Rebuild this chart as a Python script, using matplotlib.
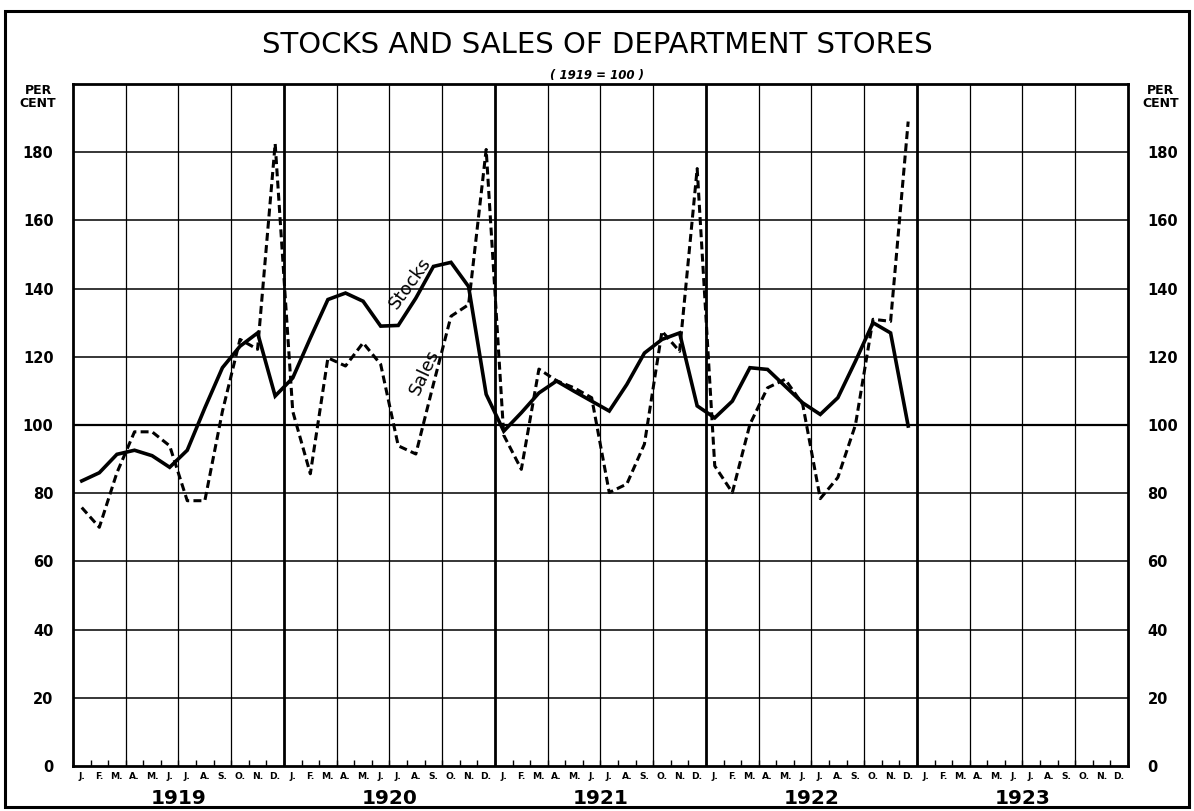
import numpy as np
import matplotlib.pyplot as plt
from matplotlib.patches import Rectangle
from matplotlib.transforms import blended_transform_factory


YEARS = ["1919", "1920", "1921", "1922", "1923"]
MONTH_LABELS = ["J.", "F.", "M.", "A.", "M.", "J.", "J.", "A.", "S.", "O.", "N.", "D."]

# monthly index numbers, Jan 1919 - Dec 1922 (1919 = 100)
stocks = [
    83.6, 86.0, 91.4, 92.6, 91.0, 87.6, 92.6, 105.0, 116.8, 123.1, 127.0, 108.5,
    113.8, 125.5, 136.8, 138.7, 136.3, 129.0, 129.2, 137.2, 146.5, 147.7, 140.6, 109.0,
    98.2, 103.6, 109.4, 112.9, 109.9, 107.0, 104.1, 111.9, 121.1, 125.1, 127.0, 105.6,
    102.1, 107.0, 116.8, 116.3, 111.4, 106.5, 103.1, 108.0, 118.7, 130.0, 127.0, 99.7,
]
sales = [
    75.8, 70.0, 86.0, 98.0, 98.0, 93.9, 77.8, 77.8, 104.0, 125.1, 122.2, 182.5,
    104.0, 85.7, 119.7, 117.3, 124.1, 117.8, 93.9, 91.5, 112.0, 131.9, 135.3, 180.8,
    97.0, 87.0, 116.4, 113.0, 110.9, 108.0, 80.2, 82.7, 94.4, 127.5, 121.6, 175.2,
    88.0, 80.2, 100.2, 110.9, 113.4, 106.1, 78.4, 84.6, 100.0, 131.0, 130.4, 189.0,
]
y_ticks = [0, 20, 40, 60, 80, 100, 120, 140, 160, 180]

n_months = 12 * len(YEARS)
x_months = np.arange(len(stocks)) + 0.5

fig = plt.figure(figsize=(11.94, 8.11), dpi=100)
fig.patch.set_facecolor("white")
ax = fig.add_axes([0.0611, 0.0555, 0.8836, 0.8409])

# outer frame around the whole sheet
fig.patches.append(Rectangle((0.004, 0.005), 0.992, 0.982, transform=fig.transFigure,
                             fill=False, edgecolor="black", linewidth=2.2))

ax.set_xlim(0, n_months)
ax.set_ylim(0, 200)

# grid: quarter lines thin, year lines heavy
for q in range(3, n_months, 3):
    if q % 12 == 0:
        ax.axvline(q, color="black", linewidth=2.0, zorder=1)
    else:
        ax.axvline(q, color="black", linewidth=0.9, zorder=1)
for v in y_ticks[1:]:
    ax.axhline(v, color="black", linewidth=1.6 if v == 100 else 1.1, zorder=1)

ax.plot(x_months, stocks, color="black", linewidth=2.6, solid_joinstyle="miter", zorder=3)
ax.plot(x_months, sales, color="black", linewidth=2.2, dashes=(2.6, 1.4), zorder=3)

ax.text(19.2, 141.5, "Stocks", rotation=54, fontsize=13, ha="center", va="center",
        color="black", zorder=4)
ax.text(20.0, 115.5, "Sales", rotation=65, fontsize=13, ha="center", va="center",
        color="black", zorder=4)

for side in ax.spines.values():
    side.set_linewidth(2.0)

# y axis labels on both sides
ax.set_yticks(y_ticks)
ax.set_yticklabels([str(v) for v in y_ticks], fontweight="bold", fontsize=10.5)
ax.tick_params(axis="y", length=0, pad=14)

ax_r = ax.twinx()
ax_r.set_ylim(ax.get_ylim())
ax_r.set_yticks(y_ticks)
ax_r.set_yticklabels([str(v) for v in y_ticks], fontweight="bold", fontsize=10.5)
ax_r.tick_params(axis="y", length=0, pad=14)
for side in ax_r.spines.values():
    side.set_visible(False)

# month labels under every month
ax.set_xticks(np.arange(n_months) + 0.5)
ax.set_xticklabels(MONTH_LABELS * len(YEARS), fontsize=6.6, fontweight="bold")
ax.set_xticks(np.arange(0, n_months + 1), minor=True)
ax.tick_params(axis="x", which="major", length=0, pad=4)
ax.tick_params(axis="x", which="minor", direction="in", length=4, width=1.0)

trans = blended_transform_factory(ax.transData, ax.transAxes)
for i, yr in enumerate(YEARS):
    ax.text(12 * i + 6, -0.047, yr, transform=trans, ha="center", va="center",
            fontsize=14.5, fontweight="bold")

ax.text(-0.033, 0.981, "PER\nCENT", transform=ax.transAxes, ha="center", va="center",
        fontsize=9, fontweight="bold", linespacing=0.95)
ax.text(1.031, 0.981, "PER\nCENT", transform=ax.transAxes, ha="center", va="center",
        fontsize=9, fontweight="bold", linespacing=0.95)

fig.text(0.5, 0.945, "STOCKS AND SALES OF DEPARTMENT STORES", ha="center", va="center",
         fontsize=21)
fig.text(0.5, 0.907, "( 1919 = 100 )", ha="center", va="center", fontsize=8.5,
         style="italic", fontweight="bold")

fig.savefig("out.png", dpi=100)
